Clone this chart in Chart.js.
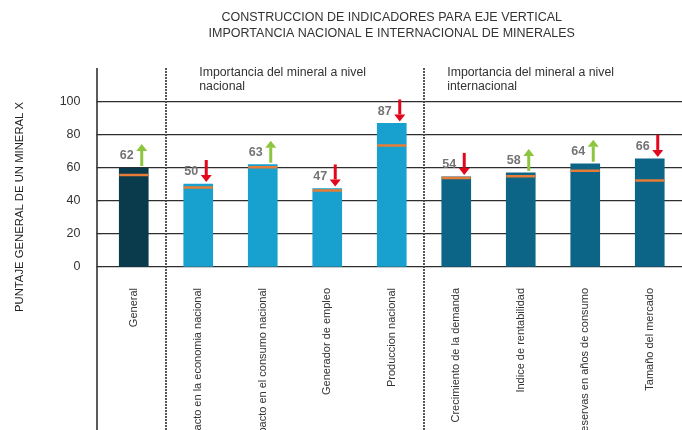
<!DOCTYPE html>
<html>
<head>
<meta charset="utf-8">
<script src="https://cdn.jsdelivr.net/npm/chart.js@4.4.0/dist/chart.umd.min.js"></script>
<style>
  body { margin: 0; background: #fff; }
  canvas { display: block; }
</style>
</head>
<body>
<canvas id="mineralChart" width="682" height="430"></canvas>
<script>
const categories = [
    'General',
    'Impacto en la economia nacional',
    'Impacto en el consumo nacional',
    'Generador de empleo',
    'Produccion nacional',
    'Crecimiento de la demanda',
    'Indice de rentabilidad',
    'Reservas en años de consumo',
    'Tamaño del mercado'
];
const scores = [60, 50.3, 62, 47.6, 87, 54.6, 57, 62.6, 65.5];       // bar heights
const markScores = [55.8, 48.2, 60.4, 46.3, 73.7, 54, 55, 58.4, 52.5]; // orange marks
const shownValues = [62, 50, 63, 47, 87, 54, 58, 64, 66];             // labels above bars
const trends = ['up', 'down', 'up', 'down', 'down', 'down', 'up', 'up', 'down'];
const yTicks = [0, 20, 40, 60, 80, 100];
const groupHeaders = [
    { from: 1, lines: ['Importancia del mineral a nivel', 'nacional'] },
    { from: 5, lines: ['Importancia del mineral a nivel', 'internacional'] }
];
const separators = [0, 4]; // dotted line after these categories

const barColors = categories.map((_, i) => i === 0 ? '#0a3b4c' : (i < 5 ? '#18a0cf' : '#0c6586'));
const FONT = "'Liberation Sans', Arial, sans-serif";

const decorations = {
    id: 'decorations',
    beforeDatasetsDraw(chart) {
        const { ctx, chartArea, scales: { x } } = chart;
        const top = chartArea.top - 1;
        ctx.save();
        ctx.strokeStyle = '#333';
        ctx.lineWidth = 1.6;
        ctx.beginPath();
        ctx.moveTo(chartArea.left - 4.5, top);
        ctx.lineTo(chartArea.left - 4.5, chart.height);
        ctx.stroke();

        ctx.strokeStyle = '#444';
        ctx.lineWidth = 1.8;
        ctx.setLineDash([2, 1]);
        separators.forEach(i => {
            const sx = (x.getPixelForValue(i) + x.getPixelForValue(i + 1)) / 2;
            ctx.beginPath();
            ctx.moveTo(sx, top);
            ctx.lineTo(sx, chart.height);
            ctx.stroke();
        });
        ctx.restore();
    },
    afterDatasetsDraw(chart) {
        const { ctx } = chart;
        const bars = chart.getDatasetMeta(1).data;
        ctx.save();
        bars.forEach((bar, i) => {
            ctx.font = 'bold 12.5px ' + FONT;
            ctx.fillStyle = '#747474';
            ctx.textAlign = 'center';
            ctx.textBaseline = 'middle';
            ctx.fillText(String(shownValues[i]), bar.x - 7, bar.y - 12);

            const up = trends[i] === 'up';
            const color = up ? '#8cc63e' : '#e3071d';
            const ax = bar.x + 8;
            const yTop = bar.y - 24;
            const yBot = bar.y - 2;
            const head = 7;
            ctx.strokeStyle = color;
            ctx.fillStyle = color;
            ctx.lineWidth = 3;
            ctx.beginPath();
            if (up) { ctx.moveTo(ax, yBot); ctx.lineTo(ax, yTop + head); }
            else { ctx.moveTo(ax, yTop); ctx.lineTo(ax, yBot - head); }
            ctx.stroke();
            ctx.beginPath();
            if (up) {
                ctx.moveTo(ax, yTop);
                ctx.lineTo(ax - 5.5, yTop + head);
                ctx.lineTo(ax + 5.5, yTop + head);
            } else {
                ctx.moveTo(ax, yBot);
                ctx.lineTo(ax - 5.5, yBot - head);
                ctx.lineTo(ax + 5.5, yBot - head);
            }
            ctx.closePath();
            ctx.fill();
        });
        ctx.restore();
    },
    afterDraw(chart) {
        const { ctx, scales: { x } } = chart;
        ctx.save();
        ctx.fillStyle = '#333';
        ctx.font = '12.3px ' + FONT;
        ctx.textAlign = 'left';
        ctx.textBaseline = 'middle';
        groupHeaders.forEach((g, k) => {
            const hx = x.getPixelForValue(g.from) + (k === 0 ? 1 : -9);
            g.lines.forEach((line, j) => ctx.fillText(line, hx, 72.5 + j * 14.5));
        });

        // y axis title
        ctx.translate(20, 207);
        ctx.rotate(-Math.PI / 2);
        ctx.textAlign = 'center';
        ctx.font = '11.3px ' + FONT;
        ctx.fillStyle = '#222';
        ctx.fillText('PUNTAJE GENERAL DE UN MINERAL X', 0, 0);
        ctx.restore();
    }
};

new Chart(document.getElementById('mineralChart').getContext('2d'), {
    data: {
        labels: categories,
        datasets: [
            {
                type: 'line',
                data: markScores,
                showLine: false,
                pointStyle: 'line',
                pointRadius: 14.5,
                pointHoverRadius: 14.5,
                borderColor: '#e67c35',
                pointBorderWidth: 2.5,
                order: 1
            },
            {
                type: 'bar',
                data: scores,
                backgroundColor: barColors,
                barThickness: 29,
                order: 2
            }
        ]
    },
    options: {
        responsive: false,
        animation: false,
        events: [],
        layout: { autoPadding: false, padding: { left: 0, top: 0, bottom: 0, right: -3 } },
        plugins: {
            legend: { display: false },
            tooltip: { enabled: false },
            title: {
                display: true,
                fullSize: false,
                text: ['CONSTRUCCION DE INDICADORES PARA EJE VERTICAL', 'IMPORTANCIA NACIONAL E INTERNACIONAL DE MINERALES'],
                color: '#333',
                font: { family: FONT, size: 12.5, weight: 'normal', lineHeight: 1.3 },
                padding: { top: 9.5, bottom: 27 }
            }
        },
        scales: {
            x: {
                grid: { display: false },
                border: { display: false },
                ticks: {
                    autoSkip: false,
                    minRotation: 90,
                    maxRotation: 90,
                    padding: 13,
                    color: '#333',
                    font: { family: FONT, size: 11 }
                },
                afterFit: s => { s.height = 163; s.paddingLeft = 0; s.paddingRight = 0; }
            },
            y: {
                min: 0,
                max: 120,
                afterBuildTicks: s => { s.ticks = yTicks.map(v => ({ value: v })); },
                grid: { color: '#2e2e2e', lineWidth: 1.3, tickLength: 5 },
                border: { display: false },
                ticks: {
                    padding: 16,
                    color: '#333',
                    font: { family: FONT, size: 12.5 }
                },
                afterFit: s => { s.width = 101.5; }
            }
        }
    },
    plugins: [decorations]
});
</script>
</body>
</html>
